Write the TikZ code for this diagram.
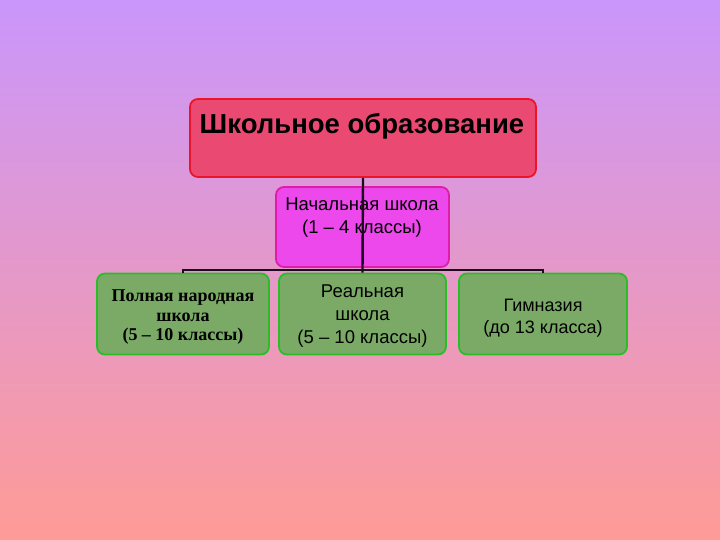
\documentclass[tikz,border=0pt]{standalone}
\usepackage{fontspec}
\setmainfont{Liberation Sans}
\newfontfamily\serifcyr{Liberation Serif}
\definecolor{bgtop}{RGB}{202,150,252}
\definecolor{bgbot}{RGB}{255,155,150}
\definecolor{topfill}{RGB}{234,74,114}
\definecolor{topline}{RGB}{236,20,40}
\definecolor{midfill}{RGB}{236,72,236}
\definecolor{midline}{RGB}{222,30,170}
\definecolor{grfill}{RGB}{122,170,102}
\definecolor{grline}{RGB}{40,190,40}
\definecolor{conn}{RGB}{30,10,30}
\tikzset{
  box/.style={draw, line width=1.8pt, rounded corners=8pt, inner sep=0pt, align=center},
  greenbox/.style={box, fill=grfill, draw=grline, minimum width=171pt, minimum height=81pt},
  connline/.style={draw=conn, line width=2.4pt}
}
\begin{document}
\begin{tikzpicture}[x=1pt,y=-1pt]
\shade[top color=bgtop, bottom color=bgbot] (0,0) rectangle (720,540);
\useasboundingbox (0,0) rectangle (720,540);
\node[box, fill=topfill, draw=topline, minimum width=346pt, minimum height=78pt] (top) at (363,138) {};
\node[font=\bfseries\fontsize{27.5}{30}\selectfont, anchor=center] (toptxt) at (362,126) {Школьное образование};
\node[box, fill=midfill, draw=midline, minimum width=173pt, minimum height=80pt] (mid) at (362.5,227) {};
\node[font=\fontsize{18.5}{23}\selectfont, align=center] (midtxt) at (362,218) {Начальная школа\\(1 – 4 классы)};
\node[greenbox, minimum width=172pt] (bl) at (183,314) {};
\node[font=\serifcyr\bfseries\fontsize{18}{19.5}\selectfont, align=center] (bltxt) at (183,317.5) {Полная народная\\школа\\(5 – 10 классы)};
\node[greenbox, minimum width=167pt] (bm) at (362.5,314) {};
\node[font=\fontsize{18.5}{23}\selectfont, align=center] (bmtxt) at (362.5,316) {Реальная\\школа\\(5 – 10 классы)};
\node[greenbox, minimum width=168pt] (br) at (543,314) {};
\node[font=\fontsize{18}{22}\selectfont, align=center] (brtxt) at (543,318) {Гимназия\\(до 13 класса)};
\coordinate (j) at (362.5,270);
\draw[connline] (top.south) -- (bm.north);
\draw[connline] (bl.north) -- (bl.north |- j) -- (br.north |- j) -- (br.north);
\end{tikzpicture}
\end{document}
